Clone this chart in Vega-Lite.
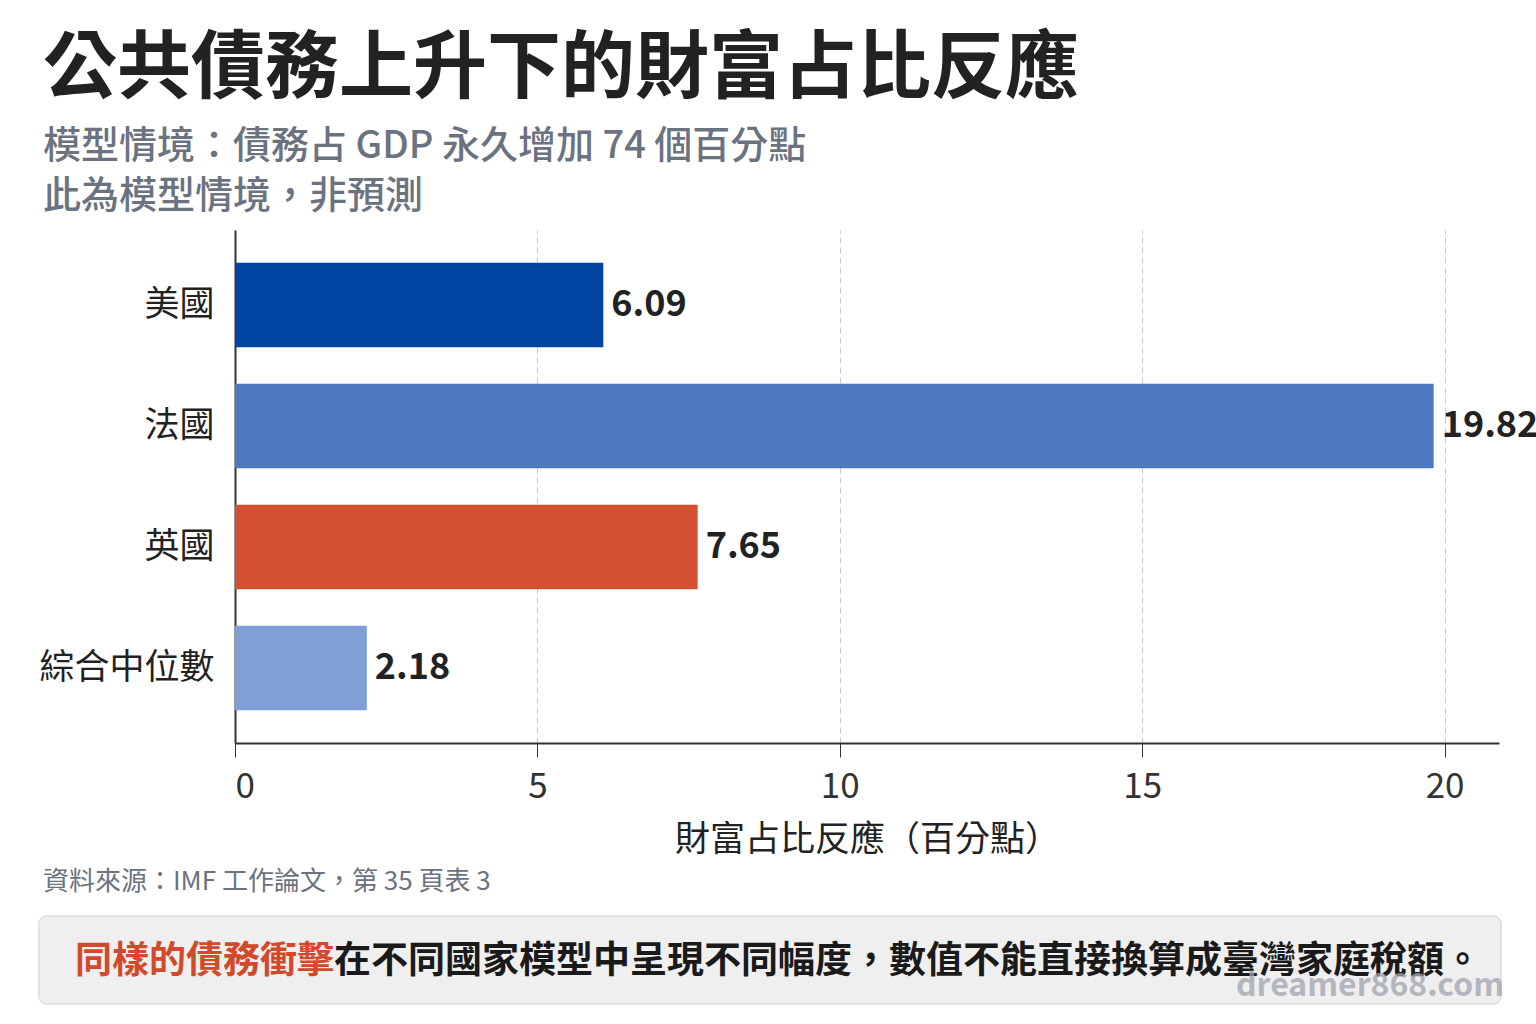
{
  "$schema": "https://vega.github.io/schema/vega-lite/v6.json",
  "description": "Wealth share response under rising public debt",
  "background": "white",
  "padding": {"left": 38, "top": 33, "right": 0, "bottom": 5},
  "spacing": 12,
  "config": {
    "font": "Noto Sans CJK TC",
    "view": {"stroke": null}
  },
  "datasets": {
    "bars": [
      {"country": "美國", "value": 6.09, "label": "6.09"},
      {"country": "法國", "value": 19.82, "label": "19.82"},
      {"country": "英國", "value": 7.65, "label": "7.65"},
      {"country": "綜合中位數", "value": 2.18, "label": "2.18"}
    ],
    "note": [
      {"highlight": "同樣的債務衝擊", "rest": "在不同國家模型中呈現不同幅度，數值不能直接換算成臺灣家庭稅額。", "mark": "dreamer868.com"}
    ]
  },
  "vconcat": [
    {
      "title": {
        "text": "公共債務上升下的財富占比反應",
        "subtitle": ["模型情境：債務占 GDP 永久增加 74 個百分點", "此為模型情境，非預測"],
        "anchor": "start",
        "dx": 4,
        "fontSize": 74,
        "fontWeight": "bold",
        "color": "#222222",
        "subtitleFontSize": 38,
        "subtitleFontWeight": 500,
        "subtitleColor": "#6b7280",
        "subtitleLineHeight": 50,
        "subtitlePadding": 20,
        "offset": 13
      },
      "width": 1264,
      "height": 513,
      "data": {"name": "bars"},
      "encoding": {
        "y": {
          "field": "country",
          "type": "nominal",
          "sort": null,
          "title": null,
          "scale": {"paddingInner": 0.3, "paddingOuter": 0.27},
          "axis": {
            "ticks": false,
            "domainColor": "#333333",
            "domainWidth": 2,
            "labelFontSize": 35,
            "labelColor": "#222222",
            "labelPadding": 21
          }
        },
        "x": {
          "field": "value",
          "type": "quantitative",
          "title": "財富占比反應（百分點）",
          "scale": {"domain": [0, 20.9], "nice": false},
          "axis": {
            "values": [0, 5, 10, 15, 20],
            "grid": true,
            "gridDash": [6, 4],
            "gridColor": "#c8c8c8",
            "domainColor": "#333333",
            "domainWidth": 2,
            "tickColor": "#333333",
            "tickSize": 14,
            "labelFontSize": 35,
            "labelColor": "#333333",
            "labelPadding": 12,
            "titleFontSize": 35,
            "titleFontWeight": "normal",
            "titleColor": "#222222",
            "titlePadding": 18
          }
        }
      },
      "layer": [
        {
          "mark": {"type": "bar"},
          "encoding": {
            "color": {
              "field": "country",
              "type": "nominal",
              "legend": null,
              "scale": {
                "domain": ["美國", "法國", "英國", "綜合中位數"],
                "range": ["#0046a0", "#4e79c1", "#d15131", "#7ea0d6"]
              }
            }
          }
        },
        {
          "mark": {"type": "text", "align": "left", "baseline": "middle", "dx": 8, "fontSize": 36, "fontWeight": "bold", "color": "#222222"},
          "encoding": {"text": {"field": "label"}}
        }
      ]
    },
    {
      "title": {
        "text": "資料來源：IMF 工作論文，第 35 頁表 3",
        "anchor": "start",
        "dx": 5,
        "fontSize": 26,
        "fontWeight": "normal",
        "color": "#6b7280",
        "offset": 20
      },
      "width": 1264,
      "height": 88,
      "data": {"name": "note"},
      "layer": [
        {
          "mark": {"type": "rect", "fill": "#efefef", "stroke": "#e2e2e2", "strokeWidth": 2, "cornerRadius": 8},
          "encoding": {
            "x": {"datum": -15.506, "type": "quantitative", "scale": {"domain": [0, 100]}, "axis": null},
            "x2": {"datum": 100.158},
            "y": {"datum": 0, "type": "quantitative", "scale": {"domain": [0, 100]}, "axis": null},
            "y2": {"datum": 100}
          }
        },
        {
          "mark": {"type": "text", "align": "right", "baseline": "middle", "fontSize": 37, "fontWeight": "bold", "color": "#d24a2b"},
          "encoding": {
            "x": {"datum": 7.832, "type": "quantitative"},
            "y": {"datum": 48, "type": "quantitative"},
            "text": {"field": "highlight"}
          }
        },
        {
          "mark": {"type": "text", "align": "left", "baseline": "middle", "fontSize": 37, "fontWeight": "bold", "color": "#1a1a1a"},
          "encoding": {
            "x": {"datum": 7.832, "type": "quantitative"},
            "y": {"datum": 48, "type": "quantitative"},
            "text": {"field": "rest"}
          }
        },
        {
          "mark": {"type": "text", "align": "right", "baseline": "middle", "fontSize": 32, "fontWeight": "bold", "color": "#a0a4ac", "opacity": 0.75},
          "encoding": {
            "x": {"datum": 100.4, "type": "quantitative"},
            "y": {"datum": 20.5, "type": "quantitative"},
            "text": {"field": "mark"}
          }
        }
      ]
    }
  ]
}
